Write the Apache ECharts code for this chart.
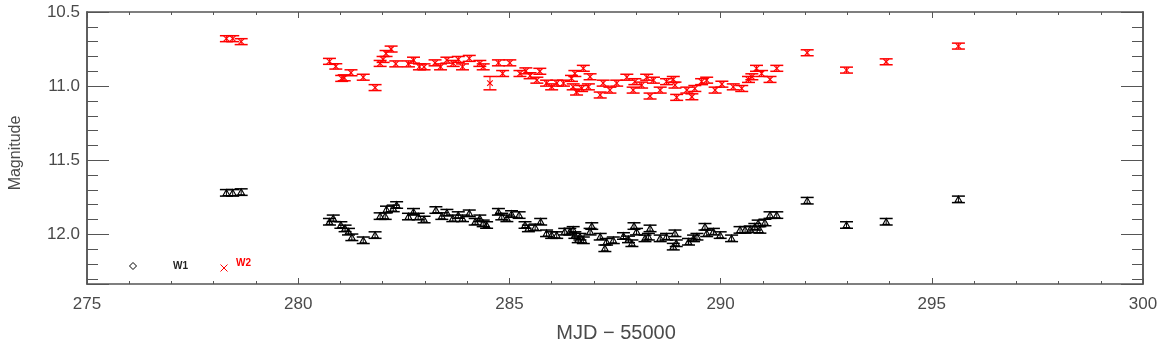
<!DOCTYPE html>
<html>
<head>
<meta charset="utf-8">
<script src="https://cdn.jsdelivr.net/npm/echarts@6/dist/echarts.min.js"></script>
<style>
  html, body { margin: 0; padding: 0; background: #fff; }
  #chart { width: 1164px; height: 348px; }
</style>
</head>
<body>
<div id="chart"></div>
<script>
// W2 photometry (red): MJD - 55000, magnitude, 1-sigma error
const w2Mjd = [278.3, 278.45, 278.65, 280.74, 280.89, 281.03, 281.09, 281.25, 281.54, 281.82, 281.94, 282.01, 282.08, 282.2, 282.31, 282.61, 282.73, 282.87, 282.98, 283.24, 283.37, 283.52, 283.67, 283.79, 283.89, 284.05, 284.3, 284.38, 284.54, 284.74, 284.84, 285.01, 285.25, 285.39, 285.49, 285.65, 285.72, 285.88, 286.0, 286.12, 286.28, 286.47, 286.51, 286.55, 286.59, 286.71, 286.75, 286.87, 286.91, 287.15, 287.22, 287.38, 287.54, 287.78, 287.93, 287.97, 288.13, 288.25, 288.33, 288.41, 288.57, 288.72, 288.88, 288.92, 288.96, 289.2, 289.32, 289.39, 289.55, 289.67, 289.87, 290.03, 290.3, 290.5, 290.66, 290.74, 290.85, 290.97, 291.17, 291.33, 292.05, 292.98, 293.92, 295.63];
const w2Mag = [10.68, 10.68, 10.70, 10.833, 10.867, 10.948, 10.944, 10.91, 10.94, 11.01, 10.847, 10.82, 10.78, 10.75, 10.85, 10.85, 10.825, 10.87, 10.87, 10.843, 10.87, 10.825, 10.847, 10.82, 10.87, 10.813, 10.847, 10.87, 10.98, 10.843, 10.915, 10.843, 10.915, 10.897, 10.93, 10.96, 10.90, 10.98, 11.005, 10.98, 10.98, 10.948, 11.005, 10.915, 11.04, 11.016, 10.88, 11.005, 10.937, 11.06, 10.98, 11.027, 10.98, 10.94, 11.027, 10.97, 10.993, 10.94, 11.067, 10.96, 11.027, 10.97, 10.955, 10.993, 11.076, 11.027, 11.072, 11.016, 10.97, 10.96, 11.027, 10.987, 11.005, 11.016, 10.955, 10.937, 10.88, 10.915, 10.955, 10.88, 10.775, 10.892, 10.836, 10.73];
const w2Err = [0.02, 0.02, 0.02, 0.02, 0.018, 0.02, 0.02, 0.02, 0.02, 0.02, 0.02, 0.02, 0.02, 0.02, 0.02, 0.02, 0.02, 0.02, 0.02, 0.02, 0.02, 0.02, 0.02, 0.02, 0.02, 0.02, 0.02, 0.02, 0.045, 0.02, 0.02, 0.02, 0.02, 0.02, 0.02, 0.02, 0.02, 0.02, 0.02, 0.02, 0.02, 0.02, 0.02, 0.02, 0.02, 0.02, 0.02, 0.02, 0.02, 0.02, 0.02, 0.02, 0.02, 0.02, 0.02, 0.02, 0.02, 0.02, 0.02, 0.02, 0.02, 0.02, 0.02, 0.02, 0.02, 0.02, 0.02, 0.02, 0.02, 0.02, 0.02, 0.02, 0.02, 0.02, 0.02, 0.02, 0.02, 0.02, 0.02, 0.02, 0.02, 0.02, 0.02, 0.02];

// W1 photometry (black)
const w1Mjd = [278.3, 278.45, 278.65, 280.74, 280.83, 281.01, 281.11, 281.19, 281.27, 281.54, 281.82, 281.94, 282.06, 282.09, 282.25, 282.33, 282.61, 282.73, 282.84, 282.98, 283.26, 283.4, 283.52, 283.66, 283.79, 283.89, 284.05, 284.19, 284.3, 284.38, 284.46, 284.74, 284.82, 284.94, 285.05, 285.23, 285.37, 285.45, 285.61, 285.74, 285.88, 286.0, 286.12, 286.31, 286.43, 286.51, 286.55, 286.63, 286.67, 286.75, 286.91, 286.95, 287.15, 287.26, 287.3, 287.46, 287.7, 287.82, 287.9, 287.95, 288.01, 288.21, 288.29, 288.33, 288.57, 288.72, 288.88, 288.92, 288.95, 289.24, 289.36, 289.44, 289.63, 289.67, 289.83, 289.99, 290.26, 290.46, 290.58, 290.7, 290.81, 290.89, 290.93, 291.05, 291.17, 291.33, 292.05, 292.98, 293.92, 295.63];
const w1Mag = [11.72, 11.72, 11.715, 11.915, 11.892, 11.937, 11.96, 11.982, 12.02, 12.04, 12.005, 11.877, 11.877, 11.832, 11.825, 11.802, 11.88, 11.848, 11.88, 11.90, 11.836, 11.877, 11.854, 11.892, 11.87, 11.892, 11.858, 11.915, 11.892, 11.926, 11.937, 11.848, 11.88, 11.892, 11.863, 11.87, 11.937, 11.96, 11.953, 11.915, 11.993, 12.005, 12.005, 11.982, 11.982, 11.97, 12.005, 12.034, 12.016, 12.04, 11.982, 11.944, 12.016, 12.094, 12.05, 12.04, 12.011, 12.034, 12.06, 11.944, 11.982, 12.027, 12.016, 11.96, 12.027, 12.016, 12.083, 11.993, 12.06, 12.05, 12.027, 12.016, 11.949, 11.993, 11.982, 12.005, 12.027, 11.97, 11.97, 11.966, 11.949, 11.926, 11.97, 11.92, 11.87, 11.87, 11.773, 11.937, 11.915, 11.764];
const w1Err = w1Mag.map(() => 0.022);

// Axis ticks
const yTickLabels = ['10.5', '11.0', '11.5', '12.0'];
const xTickLabels = ['275', '280', '285', '290', '295', '300'];

const X_MIN = 275, X_MAX = 300;
const Y_MIN = 10.5, Y_MAX = 12.335;

const AXIS_COLOR = '#555';
const TEXT_COLOR = '#4a4a4a';

function zip(a, b, c) { return a.map((v, i) => [v, b[i], c[i]]); }

// Error bar with caps plus a small symbol at the measurement
function errorBarItem(symbol, color) {
  return function (params, api) {
    const x = api.value(0), y = api.value(1), e = api.value(2);
    const c = api.coord([x, y]);
    const t = api.coord([x, y - e])[1];
    const b = api.coord([x, y + e])[1];
    const hw = 6.5;
    const st = { stroke: color, lineWidth: 1.5, fill: null };
    const children = [
      { type: 'line', shape: { x1: c[0], y1: t, x2: c[0], y2: b }, style: { stroke: color, lineWidth: 1 } },
      { type: 'line', shape: { x1: c[0] - hw, y1: t, x2: c[0] + hw, y2: t }, style: st },
      { type: 'line', shape: { x1: c[0] - hw, y1: b, x2: c[0] + hw, y2: b }, style: st }
    ];
    if (symbol === 'x') {
      const s = 2.8;
      children.push({ type: 'line', shape: { x1: c[0] - s, y1: c[1] - s, x2: c[0] + s, y2: c[1] + s }, style: { stroke: color, lineWidth: 1.1 } });
      children.push({ type: 'line', shape: { x1: c[0] - s, y1: c[1] + s, x2: c[0] + s, y2: c[1] - s }, style: { stroke: color, lineWidth: 1.1 } });
    } else {
      const s = 3.3;
      children.push({ type: 'polygon', shape: { points: [[c[0], c[1] - s], [c[0] - s, c[1] + s * 0.8], [c[0] + s, c[1] + s * 0.8]] }, style: { stroke: color, lineWidth: 1.1, fill: null } });
    }
    return { type: 'group', children };
  };
}

const baseAxis = {
  axisLine: { show: true, onZero: false, lineStyle: { color: AXIS_COLOR, width: 1.5 } },
  splitLine: { show: false }
};

const chart = echarts.init(document.getElementById('chart'));
chart.setOption({
  animation: false,
  backgroundColor: '#fff',
  grid: { left: 87, right: 21, top: 12, bottom: 64, containLabel: false },
  xAxis: [
    Object.assign({}, baseAxis, {
      type: 'value', position: 'bottom', min: X_MIN, max: X_MAX, interval: 5,
      axisTick: { show: true, inside: true, length: 6, lineStyle: { color: AXIS_COLOR, width: 1 } },
      minorTick: { show: true, splitNumber: 5, length: 3, lineStyle: { color: AXIS_COLOR, width: 1 } },
      axisLabel: {
        margin: 12, color: TEXT_COLOR, fontSize: 17, fontFamily: 'Liberation Sans Narrow, Liberation Sans, sans-serif',
        formatter: v => { const s = String(Math.round(v)); return xTickLabels.includes(s) ? s : ''; }
      }
    }),
    Object.assign({}, baseAxis, {
      type: 'value', position: 'top', min: X_MIN, max: X_MAX, interval: 5,
      axisTick: { show: true, inside: true, length: 6, lineStyle: { color: AXIS_COLOR, width: 1 } },
      minorTick: { show: true, splitNumber: 5, length: 3, lineStyle: { color: AXIS_COLOR, width: 1 } },
      axisLabel: { show: false }
    })
  ],
  yAxis: [
    // major ticks + labels, left
    Object.assign({}, baseAxis, {
      type: 'value', position: 'left', inverse: true, min: Y_MIN, max: Y_MAX, interval: 0.5,
      axisTick: { show: true, inside: true, length: 22, lineStyle: { color: AXIS_COLOR, width: 1 } },
      axisLabel: {
        margin: 7, color: TEXT_COLOR, fontSize: 17, fontFamily: 'Liberation Sans, sans-serif',
        formatter: v => { const s = v.toFixed(1); return (Math.abs(v * 2 - Math.round(v * 2)) < 1e-6 && yTickLabels.includes(s)) ? s : ''; }
      }
    }),
    // minor ticks, left
    Object.assign({}, baseAxis, {
      type: 'value', position: 'left', inverse: true, min: Y_MIN, max: Y_MAX, interval: 0.1,
      axisTick: { show: true, inside: true, length: 11, lineStyle: { color: AXIS_COLOR, width: 1 } },
      axisLabel: { show: false }
    }),
    // major ticks, right
    Object.assign({}, baseAxis, {
      type: 'value', position: 'right', inverse: true, min: Y_MIN, max: Y_MAX, interval: 0.5,
      axisTick: { show: true, inside: true, length: 22, lineStyle: { color: AXIS_COLOR, width: 1 } },
      axisLabel: { show: false }
    }),
    // minor ticks, right
    Object.assign({}, baseAxis, {
      type: 'value', position: 'right', inverse: true, min: Y_MIN, max: Y_MAX, interval: 0.1,
      axisTick: { show: true, inside: true, length: 11, lineStyle: { color: AXIS_COLOR, width: 1 } },
      axisLabel: { show: false }
    })
  ],
  series: [
    {
      name: 'W1', type: 'custom', xAxisIndex: 0, yAxisIndex: 0,
      data: zip(w1Mjd, w1Mag, w1Err),
      encode: { x: 0, y: 1 },
      renderItem: errorBarItem('tri', '#000')
    },
    {
      name: 'W2', type: 'custom', xAxisIndex: 0, yAxisIndex: 0,
      data: zip(w2Mjd, w2Mag, w2Err),
      encode: { x: 0, y: 1 },
      renderItem: errorBarItem('x', '#ff0000')
    }
  ],
  graphic: [
    // axis titles
    { type: 'text', x: 616, y: 333, style: { text: 'MJD − 55000', fontSize: 20, fill: TEXT_COLOR, align: 'center', verticalAlign: 'middle', fontFamily: 'Liberation Sans, sans-serif' } },
    { type: 'text', x: 16, y: 153, rotation: Math.PI / 2, style: { text: 'Magnitude', fontSize: 16, fill: TEXT_COLOR, align: 'center', verticalAlign: 'middle', fontFamily: 'Liberation Sans, sans-serif' } },
    // key
    { type: 'polygon', shape: { points: [[133, 262.5], [136.5, 266], [133, 269.5], [129.5, 266]] }, style: { stroke: '#000', lineWidth: 1, fill: null } },
    { type: 'text', x: 173, y: 266, style: { text: 'W1', fontSize: 10, fontWeight: 'bold', fill: '#222', verticalAlign: 'middle', fontFamily: 'Liberation Sans, sans-serif' } },
    { type: 'line', shape: { x1: 220.5, y1: 264.5, x2: 227.5, y2: 271.5 }, style: { stroke: '#ff0000', lineWidth: 1 } },
    { type: 'line', shape: { x1: 220.5, y1: 271.5, x2: 227.5, y2: 264.5 }, style: { stroke: '#ff0000', lineWidth: 1 } },
    { type: 'text', x: 236, y: 263, style: { text: 'W2', fontSize: 10, fontWeight: 'bold', fill: '#ff0000', verticalAlign: 'middle', fontFamily: 'Liberation Sans, sans-serif' } }
  ]
});
</script>
</body>
</html>
